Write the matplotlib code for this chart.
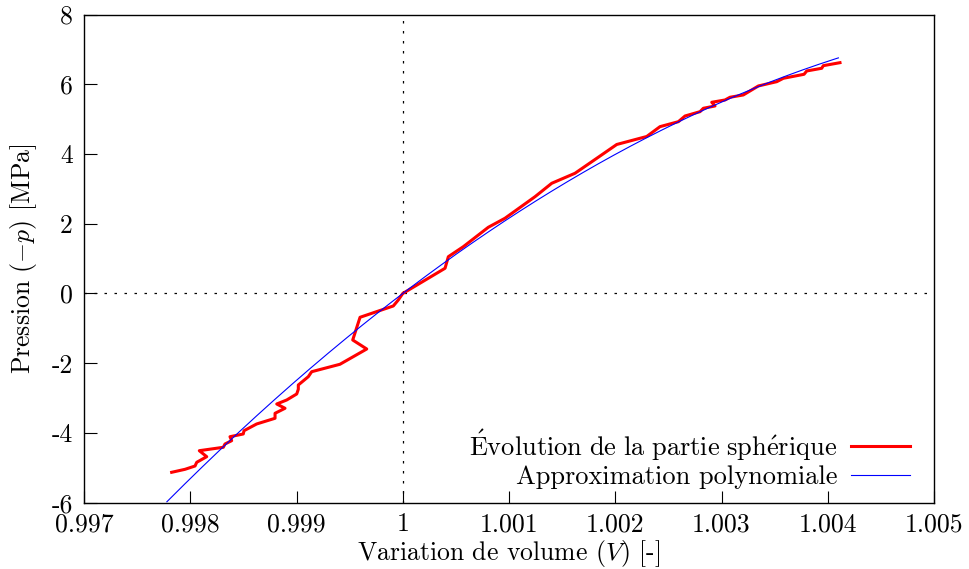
import numpy as np
import matplotlib.pyplot as plt

plt.rcParams['font.family'] = 'cmr10'
plt.rcParams['mathtext.fontset'] = 'cm'
plt.rcParams['axes.unicode_minus'] = False

# Courbe mesuree : variation de volume V et pression -p [MPa]
V = [0.997825, 0.997951, 0.998045, 0.998061, 0.998155, 0.998085, 0.998311,
     0.998327, 0.998390, 0.998374, 0.998499, 0.998506, 0.998625, 0.998798,
     0.998798, 0.998892, 0.998814, 0.998908, 0.999002, 0.999017, 0.999017,
     0.999111, 0.999143, 0.999409, 0.999661, 0.999529, 0.999598, 0.999911,
     0.999958, 1.000000, 1.000398, 1.000429, 1.000570, 1.000805, 1.000962,
     1.001245, 1.001402, 1.001621, 1.001826, 1.002014, 1.002296, 1.002421,
     1.002594, 1.002657, 1.002798, 1.002829, 1.002939, 1.002908, 1.003033,
     1.003080, 1.003205, 1.003347, 1.003520, 1.003582, 1.003777, 1.003802,
     1.003943, 1.003958, 1.004115]
P = [-5.128, -5.042, -4.947, -4.841, -4.680, -4.508, -4.411, -4.316, -4.221,
     -4.107, -4.029, -3.935, -3.742, -3.579, -3.436, -3.292, -3.169, -3.054,
     -2.882, -2.747, -2.624, -2.386, -2.243, -2.030, -1.592, -1.334, -0.683,
     -0.358, -0.186, 0.000, 0.723, 1.055, 1.342, 1.898, 2.157, 2.776, 3.160,
     3.447, 3.877, 4.273, 4.502, 4.784, 4.927, 5.090, 5.214, 5.311, 5.377,
     5.483, 5.549, 5.627, 5.693, 5.951, 6.074, 6.171, 6.286, 6.381, 6.458,
     6.533, 6.619]

xticks = [0.997, 0.998, 0.999, 1.0, 1.001, 1.002, 1.003, 1.004, 1.005]
xlabels = ['0.997', '0.998', '0.999', '1', '1.001', '1.002', '1.003', '1.004', '1.005']
yticks = [-6, -4, -2, 0, 2, 4, 6, 8]
ylabels = ['-6', '-4', '-2', '0', '2', '4', '6', '8']

fs = 18.5

# approximation polynomiale (ordre 2) passant par (1, 0)
V_arr = np.array(V)
P_arr = np.array(P)
x = V_arr - 1.0
A = np.vstack([x, x**2]).T
coef, *_ = np.linalg.lstsq(A, P_arr, rcond=None)
V_fit = np.linspace(0.99778, 1.0041, 300)
P_fit = coef[0] * (V_fit - 1.0) + coef[1] * (V_fit - 1.0)**2

fig = plt.figure(figsize=(9.7, 5.69), dpi=100)
ax = fig.add_axes([0.0866, 0.1165, 0.8763, 0.858])

ax.axhline(0, color='black', lw=0.9, ls=(0, (2, 6)))
ax.axvline(1.0, color='black', lw=0.9, ls=(0, (2, 6)))

ax.plot(V, P, color='#ff0000', lw=2.2,
        label=r'$\mathrm{\acute{E}volution\ de\ la\ partie\ sph\acute{e}rique}$')
ax.plot(V_fit, P_fit, color='#0000ff', lw=0.8, label='Approximation polynomiale')

ax.set_xlim(0.997, 1.005)
ax.set_ylim(-6, 8)
ax.set_xticks(xticks)
ax.set_xticklabels(xlabels)
ax.set_yticks(yticks)
ax.set_yticklabels(ylabels)
ax.tick_params(direction='in', length=9, width=0.8, labelsize=fs, top=False, right=False)
ax.tick_params(axis='x', pad=7)
ax.tick_params(axis='y', pad=8)
for s in ax.spines.values():
    s.set_linewidth(1.0)

ax.set_xlabel(r'Variation de volume $(V)$ [-]', fontsize=fs, labelpad=1)
ax.set_ylabel(r'Pression $(-p)$ [MPa]', fontsize=fs, labelpad=9)

leg = ax.legend(loc='lower right', bbox_to_anchor=(0.972, 0.028), frameon=False,
                fontsize=fs + 0.5, markerfirst=False,
                handlelength=2.25, handletextpad=0.5, labelspacing=0.1,
                borderaxespad=0.0, borderpad=0.0)
for col in leg._legend_handle_box.get_children():
    col.align = 'right'

fig.savefig('out.png', dpi=100)
